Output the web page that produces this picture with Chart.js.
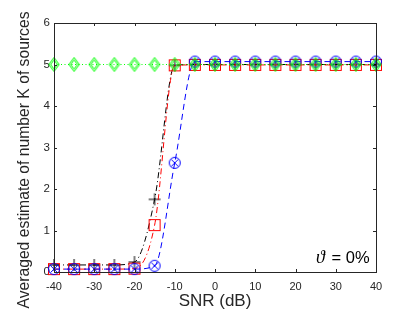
<!DOCTYPE html>
<html><head><meta charset="utf-8">
<script src="https://cdn.jsdelivr.net/npm/chart.js@4"></script>
<style>html,body{margin:0;padding:0;background:#fff}#w{width:415px;height:312px}</style>
</head><body><div id="w"><canvas id="c" width="415" height="312"></canvas></div>
<script>
const snr = [-40,-35,-30,-25,-20,-15,-10,-5,0,5,10,15,20,25,30,35,40];
const greenVals = [5,5,5,5,5,5,5,5,5,5,5,5,5,5,5,5,5];
const blackVals = [0.17,0.17,0.17,0.17,0.24,1.75,4.98,5,5,5,5,5,5,5,5,5,5];
const redVals = [0.07,0.07,0.07,0.07,0.08,1.13,4.98,4.99,4.99,4.99,4.99,4.99,4.99,4.99,4.99,4.99,4.99];
const blueVals = [0.07,0.07,0.07,0.07,0.07,0.15,2.63,5.07,5.07,5.07,5.07,5.07,5.07,5.07,5.07,5.07,5.07];
const xTicks = [-40,-30,-20,-10,0,10,20,30,40];
const yTicks = [0,1,2,3,4,5,6];
const yTitle = 'Averaged estimate of number K of sources';

function mk(size, draw){const c=document.createElement('canvas');c.width=size;c.height=size;const g=c.getContext('2d');draw(g,size/2);return c;}
const circX = mk(14,(g,m)=>{g.strokeStyle='#0000ff';g.lineWidth=1;g.beginPath();g.arc(m,m,5.5,0,Math.PI*2);g.stroke();
 g.beginPath();g.moveTo(m-3.5,m-3.5);g.lineTo(m+3.5,m+3.5);g.moveTo(m+3.5,m-3.5);g.lineTo(m-3.5,m+3.5);g.stroke();});
const dblDiamond = mk(16,(g,m)=>{g.strokeStyle='#00ff00';g.lineWidth=1;
 for(const r of [7,4.5]){g.beginPath();g.moveTo(m,m-r);g.lineTo(m+r*0.75,m);g.lineTo(m,m+r);g.lineTo(m-r*0.75,m);g.closePath();g.stroke();}});
const sq = mk(14,(g,m)=>{g.strokeStyle='#ff0000';g.lineWidth=1;g.strokeRect(m-5.5,m-5.5,11,11);});
const plus = mk(14,(g,m)=>{g.strokeStyle='#000';g.lineWidth=1;g.beginPath();g.moveTo(m-6,m);g.lineTo(m+6,m);g.moveTo(m,m-6);g.lineTo(m,m+6);g.stroke();});

const frame = {id:'frame',afterDraw(ch){const a=ch.chartArea,g=ch.ctx;g.save();g.strokeStyle='#262626';g.lineWidth=1;
 g.strokeRect(Math.round(a.left)+0.5,Math.round(a.top)+0.5,Math.round(a.right-a.left),Math.round(a.bottom-a.top));
 const xs=ch.scales.x, ys=ch.scales.y;g.beginPath();
 for(const v of xTicks){const p=Math.round(xs.getPixelForValue(v))+0.5;g.moveTo(p,a.bottom);g.lineTo(p,a.bottom-3);g.moveTo(p,a.top);g.lineTo(p,a.top+3);}
 for(const v of yTicks){const p=Math.round(ys.getPixelForValue(v))+0.5;g.moveTo(a.left,p);g.lineTo(a.left+3,p);g.moveTo(a.right,p);g.lineTo(a.right-3,p);}
 g.stroke();
 g.fillStyle='#000';g.font='italic 18px "Liberation Serif"';g.textBaseline='alphabetic';
 const x0=a.right-60,y0=a.bottom-9;g.fillText('\u03D1',x0,y0);g.font='16.5px "Liberation Sans"';g.fillText(' = 0%',x0+11,y0);
 g.fillStyle='#262626';g.font='15.7px "Liberation Sans"';g.textAlign='center';g.textBaseline='middle';
 g.translate(25,160);g.rotate(-Math.PI/2);g.fillText(yTitle,0,0);
 g.restore();}};

const ds = (label,data,color,dash,img)=>({label,data:snr.map((x,i)=>({x,y:data[i]})),borderColor:color,borderWidth:1,borderDash:dash,
 pointStyle:img,pointRadius:6,pointHoverRadius:6,fill:false,clip:false,tension:0.35,cubicInterpolationMode:'monotone'});

new Chart(document.getElementById('c'),{type:'line',
 data:{datasets:[
  ds('green',greenVals,'#00ff00',[1,2.5],dblDiamond),
  ds('blue',blueVals,'#0000ff',[6,4],circX),
  ds('red',redVals,'#ff0000',[6,3,1,3],sq),
  ds('black',blackVals,'#000000',[6,3,1,3],plus)
 ]},
 options:{responsive:false,animation:false,devicePixelRatio:1,
  layout:{padding:{left:0,top:23,right:39,bottom:0}},
  plugins:{legend:{display:false},tooltip:{enabled:false}},
  scales:{
   x:{type:'linear',min:-40,max:40,grid:{display:false,drawTicks:false,tickLength:0},border:{display:false},
      afterBuildTicks(s){s.ticks=xTicks.map(v=>({value:v}));},
      afterFit(s){s.height=40;},
      ticks:{color:'#262626',font:{family:'Liberation Sans',size:11},padding:8,maxRotation:0},
      title:{display:true,text:'SNR (dB)',color:'#262626',font:{family:'Liberation Sans',size:17},padding:{top:0,bottom:0}}},
   y:{type:'linear',min:0,max:6,grid:{display:false,drawTicks:false,tickLength:0},border:{display:false},
      afterBuildTicks(s){s.ticks=yTicks.map(v=>({value:v}));},
      afterFit(s){s.width=54;},
      ticks:{color:'#262626',font:{family:'Liberation Sans',size:11.5},padding:4},
      title:{display:false}}
  }},
 plugins:[frame]});
</script></body></html>
